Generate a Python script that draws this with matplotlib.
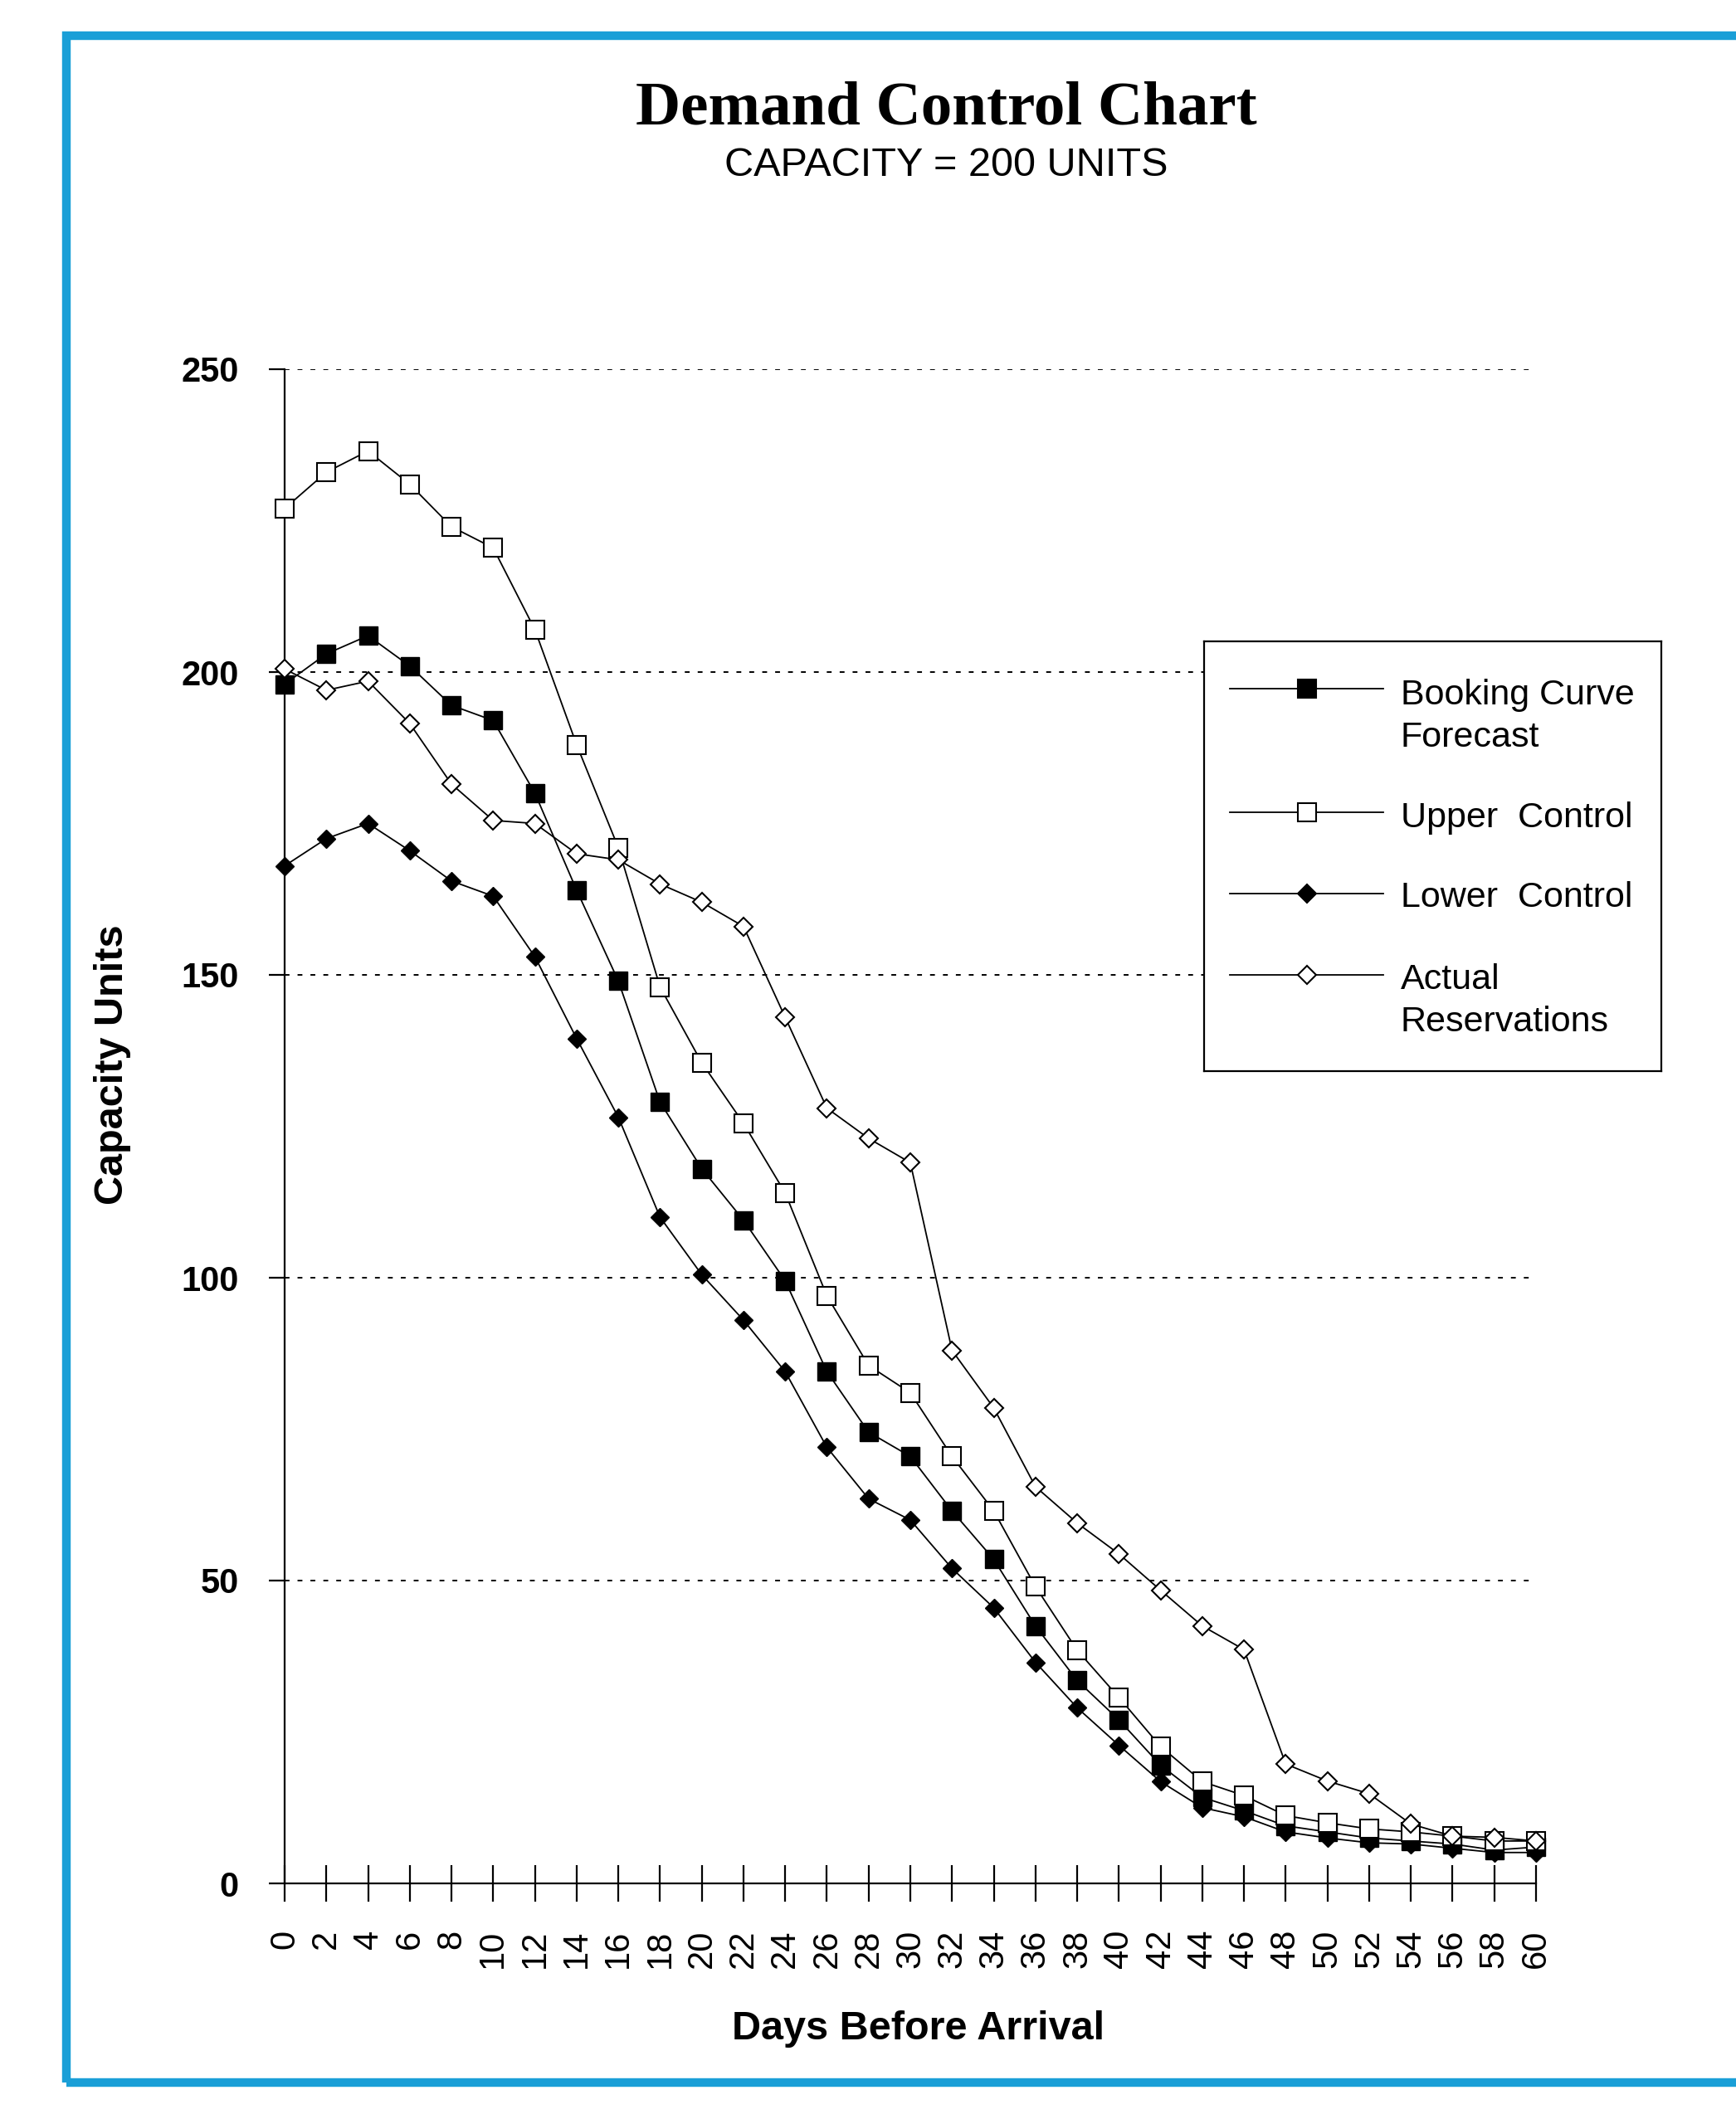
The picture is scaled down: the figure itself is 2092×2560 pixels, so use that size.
import matplotlib
matplotlib.use('Agg')
import matplotlib.pyplot as plt
from matplotlib.patches import Rectangle
from matplotlib.lines import Line2D

# data
days = list(range(0, 61, 2))
booking = [198, 203, 206, 201, 194.5, 192, 180, 164, 149, 129, 118, 109.5, 99.5, 84.5, 74.5, 70.5,
           61.5, 53.5, 42.5, 33.5, 27, 19.5, 14.2, 12, 9.5, 8.5, 7.5, 7, 6.5, 5.5, 6]
upper = [227, 233, 236.5, 231, 224, 220.5, 207, 188, 171, 148, 135.5, 125.5, 114, 97, 85.5, 81,
         70.5, 61.5, 49, 38.5, 30.7, 22.6, 16.8, 14.5, 11.2, 10, 9, 8.5, 7.8, 7, 7]
lower = [168, 172.5, 175, 170.5, 165.5, 163, 153, 139.5, 126.5, 110, 100.5, 93, 84.5, 72, 63.5, 60,
         52, 45.5, 36.5, 29, 22.8, 16.8, 12.5, 11, 8.5, 7.5, 6.7, 6.5, 5.8, 5.1, 5.1]
actual = [200.5, 197, 198.5, 191.5, 181.5, 175.5, 175, 170, 169, 165, 162, 158, 143, 128, 123, 119,
          88, 78.5, 65.5, 59.5, 54.4, 48.4, 42.5, 38.6, 19.7, 16.9, 14.8, 9.8, 7.8, 7.6, 7]
yticks = [0, 50, 100, 150, 200, 250]

W, H = 2092, 2560
SANS = 'Liberation Sans'
BLUE = '#1a9fd7'

fig = plt.figure(figsize=(W / 100, H / 100), dpi=100)
fig.patch.set_facecolor('white')

# blue page frame (right side runs off the page)
fig.add_artist(Rectangle((80 / W, 1 - 2510 / H), 1.2, (2510 - 43) / H, transform=fig.transFigure,
                         fill=False, edgecolor=BLUE, lw=7.5, clip_on=False))

fig.text(1140 / W, 1 - 132 / H, 'Demand Control Chart', family='Liberation Serif', weight='bold',
         fontsize=54, ha='center', va='center')
fig.text(1140 / W, 1 - 200 / H, 'CAPACITY = 200 UNITS', family=SANS, fontsize=35,
         ha='center', va='center')

ax = fig.add_axes([343 / W, 1 - 2270 / H, (1851 - 343) / W, (2270 - 445) / H])
ax.set_xlim(0, 60)
ax.set_ylim(0, 250)

ax.plot(days, lower, color='black', lw=1.3, marker='D', ms=11, mfc='black', mec='black',
        clip_on=False, zorder=3)
ax.plot(days, booking, color='black', lw=1.3, marker='s', ms=16, mfc='black', mec='black',
        clip_on=False, zorder=4)
ax.plot(days, upper, color='black', lw=1.3, marker='s', ms=16, mfc='white', mec='black',
        mew=1.5, clip_on=False, zorder=5)
ax.plot(days, actual, color='black', lw=1.3, marker='D', ms=11, mfc='white', mec='black',
        mew=1.5, clip_on=False, zorder=6)

for s in ['top', 'right']:
    ax.spines[s].set_visible(False)
for s in ['left', 'bottom']:
    ax.spines[s].set_linewidth(1.6)

ax.set_yticks(yticks)
ax.set_yticklabels([str(v) for v in yticks], family=SANS, weight='bold', fontsize=30)
ax.set_xticks(days)
ax.set_xticklabels([str(d) for d in days], family=SANS, fontsize=30, rotation=90)
ax.tick_params(axis='y', direction='out', length=14, width=1.6, pad=26)
ax.tick_params(axis='x', direction='inout', length=32, width=1.6, pad=24)

ax.grid(axis='y', color='black', lw=1.4, linestyle=(0, (3, 5)))
ax.set_axisbelow(True)

fig.text(1107 / W, 1 - 2445 / H, 'Days Before Arrival', family=SANS, weight='bold',
         fontsize=35, ha='center', va='center')
fig.text(136 / W, 1 - 1283 / H, 'Capacity Units', family=SANS, weight='bold',
         fontsize=35, ha='center', va='center', rotation=90)

# legend box, drawn by hand so the marker sits on the first text line
lax = fig.add_axes([1451 / W, 1 - 1291 / H, (2002 - 1451) / W, (1291 - 773) / H])
lax.set_xlim(0, 1)
lax.set_ylim(0, 1)
lax.set_xticks([])
lax.set_yticks([])
for s in lax.spines.values():
    s.set_linewidth(1.6)

# label, marker, face colour, handle height, baseline of last text line
entries = [
    ('Booking Curve\nForecast', 's', 'black', 0.890, 0.755),
    ('Upper  Control', 's', 'white', 0.602, 0.568),
    ('Lower  Control', 'D', 'black', 0.413, 0.382),
    ('Actual\nReservations', 'D', 'white', 0.224, 0.092),
]
for label, mk, fc, yy, ty in entries:
    ms = 16 if mk == 's' else 11
    lax.add_line(Line2D([0.056, 0.392], [yy, yy], color='black', lw=1.3))
    lax.add_line(Line2D([0.225], [yy], marker=mk, ms=ms, mfc=fc, mec='black', mew=1.5))
    lax.text(0.43, ty, label, family=SANS, fontsize=31, ha='left', va='baseline',
             linespacing=1.35, transform=lax.transAxes)

fig.savefig('out.png', dpi=100, facecolor='white')
